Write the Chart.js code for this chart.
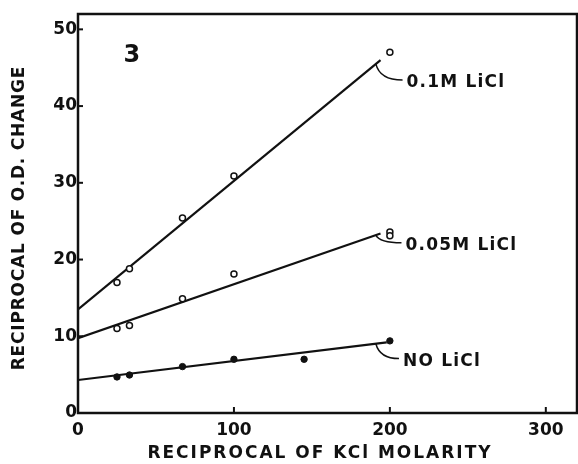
<!DOCTYPE html>
<html>
<head>
<meta charset="utf-8">
<script src="https://cdn.jsdelivr.net/npm/chart.js@4/dist/chart.umd.min.js"></script>
<style>
    html, body { margin: 0; padding: 0; background: #fff; }
    #wrap { width: 578px; height: 464px; position: relative; }
</style>
</head>
<body>
<div id="wrap"><canvas id="grafico"></canvas></div>
<script>
(function () {
    'use strict';

    // measured points
    var x01  = [25, 33, 67, 100, 200];
    var y01  = [17.0, 18.8, 25.4, 30.9, 47.0];
    var x005 = [25, 33, 67, 100, 200, 200];
    var y005 = [11.0, 11.4, 14.9, 18.1, 23.6, 23.1];
    var x0   = [25, 33, 67, 100, 145, 200];
    var y0   = [4.7, 4.95, 6.05, 7.0, 7.0, 9.4];

    // fitted lines (start, end)
    var fitX01  = [0, 194];
    var fitY01  = [13.5, 46.0];
    var fitX005 = [0, 194];
    var fitY005 = [9.75, 23.4];
    var fitX0   = [0, 198];
    var fitY0   = [4.3, 9.2];

    // curve labels
    var rotulos  = ['0.1M LiCl', '0.05M LiCl', 'NO LiCl'];
    var rotuloX  = [210.7, 210, 208.4];
    var rotuloY  = [43, 21.8, 6.7];
    var guiaX    = 191;

    var xTicks = [0, 100, 200, 300];
    var yTicks = [0, 10, 20, 30, 40, 50];

    var INK = '#111';
    var FONTE = '"DejaVu Sans", sans-serif';

    function pares(xs, ys) {
        return xs.map(function (x, i) { return { x: x, y: ys[i] }; });
    }

    function naReta(fx, fy, x) {
        return fy[0] + (fy[1] - fy[0]) * (x - fx[0]) / (fx[1] - fx[0]);
    }

    var retas = [[fitX01, fitY01], [fitX005, fitY005], [fitX0, fitY0]];

    var moldura = {
        id: 'moldura',
        afterDraw: function (chart) {
            var ctx = chart.ctx;
            var a = chart.chartArea;
            var sx = chart.scales.x;
            var sy = chart.scales.y;

            ctx.save();
            ctx.strokeStyle = INK;
            ctx.lineWidth = 2.5;
            ctx.strokeRect(a.left, a.top, a.right - a.left, a.bottom - a.top);

            // inner tick marks
            ctx.lineWidth = 2;
            xTicks.forEach(function (v) {
                if (v === 0) return;
                var px = sx.getPixelForValue(v);
                ctx.beginPath();
                ctx.moveTo(px, a.bottom);
                ctx.lineTo(px, a.bottom - 6);
                ctx.stroke();
            });
            yTicks.forEach(function (v) {
                if (v === 0) return;
                var py = sy.getPixelForValue(v);
                ctx.beginPath();
                ctx.moveTo(a.left, py);
                ctx.lineTo(a.left + 5, py);
                ctx.stroke();
            });

            // leaders + labels
            ctx.font = 'bold 17px ' + FONTE;
            ctx.letterSpacing = '1.2px';
            ctx.fillStyle = INK;
            ctx.textBaseline = 'middle';
            ctx.textAlign = 'left';
            ctx.lineWidth = 1.5;
            rotulos.forEach(function (txt, i) {
                var r = retas[i];
                var sxp = sx.getPixelForValue(guiaX);
                var syp = sy.getPixelForValue(naReta(r[0], r[1], guiaX));
                var ex = sx.getPixelForValue(rotuloX[i]) - 4;
                var ey = sy.getPixelForValue(rotuloY[i]) - 3;
                ctx.beginPath();
                ctx.moveTo(sxp, syp);
                ctx.quadraticCurveTo(sxp + 4, ey, ex, ey);
                ctx.stroke();
                ctx.fillText(txt, sx.getPixelForValue(rotuloX[i]), sy.getPixelForValue(rotuloY[i]));
            });

            // panel number
            ctx.letterSpacing = '0px';
            ctx.font = 'bold 24px ' + FONTE;
            ctx.textAlign = 'center';
            ctx.fillText('3', sx.getPixelForValue(34.5), sy.getPixelForValue(46.5));

            // axis titles
            ctx.font = 'bold 17px ' + FONTE;
            ctx.letterSpacing = '2px';
            ctx.fillText('RECIPROCAL OF KCl MOLARITY', 320, 454);

            ctx.translate(20, 218);
            ctx.rotate(-Math.PI / 2);
            ctx.letterSpacing = '0.8px';
            ctx.fillText('RECIPROCAL OF O.D. CHANGE', 0, 0);
            ctx.restore();
        }
    };

    function init() {
        var canvas = document.getElementById('grafico');
        if (typeof Chart === 'undefined' || !canvas) return;

        var linha = {
            type: 'line',
            showLine: true,
            borderColor: INK,
            borderWidth: 2.2,
            pointRadius: 0,
            fill: false,
            tension: 0,
            order: 2
        };

        new Chart(canvas, {
            type: 'scatter',
            data: {
                datasets: [
                    Object.assign({ label: '0.1M fit', data: pares(fitX01, fitY01) }, linha),
                    Object.assign({ label: '0.05M fit', data: pares(fitX005, fitY005) }, linha),
                    Object.assign({ label: 'NO fit', data: pares(fitX0, fitY0) }, linha),
                    {
                        label: '0.1M LiCl',
                        data: pares(x01, y01),
                        pointRadius: 3,
                        pointBorderWidth: 1.5,
                        borderColor: INK,
                        backgroundColor: '#fff',
                        order: 1
                    },
                    {
                        label: '0.05M LiCl',
                        data: pares(x005, y005),
                        pointRadius: 3,
                        pointBorderWidth: 1.5,
                        borderColor: INK,
                        backgroundColor: '#fff',
                        order: 1
                    },
                    {
                        label: 'NO LiCl',
                        data: pares(x0, y0),
                        pointRadius: 3.2,
                        pointBorderWidth: 1,
                        borderColor: INK,
                        backgroundColor: INK,
                        order: 1
                    }
                ]
            },
            options: {
                responsive: true,
                maintainAspectRatio: false,
                animation: false,
                layout: {
                    autoPadding: false,
                    padding: { left: 0, right: 1, top: 14, bottom: 0 }
                },
                plugins: {
                    legend: { display: false },
                    tooltip: { enabled: false }
                },
                scales: {
                    x: {
                        type: 'linear',
                        min: 0,
                        max: 320,
                        afterFit: function (s) {
                            s.height = 51;
                            s.paddingLeft = 0;
                            s.paddingRight = 0;
                        },
                        afterBuildTicks: function (s) {
                            s.ticks = xTicks.map(function (v) { return { value: v }; });
                        },
                        grid: { display: false, drawTicks: false },
                        border: { display: false },
                        ticks: {
                            color: INK,
                            padding: 7,
                            maxRotation: 0,
                            font: { family: FONTE, size: 17, weight: 'bold' }
                        }
                    },
                    y: {
                        type: 'linear',
                        min: 0,
                        max: 52,
                        afterFit: function (s) {
                            s.width = 78;
                            s.paddingTop = 0;
                            s.paddingBottom = 0;
                        },
                        afterBuildTicks: function (s) {
                            s.ticks = yTicks.map(function (v) { return { value: v }; });
                        },
                        grid: { display: false, drawTicks: false },
                        border: { display: false },
                        ticks: {
                            color: INK,
                            padding: 1,
                            font: { family: FONTE, size: 17, weight: 'bold' }
                        }
                    }
                }
            },
            plugins: [moldura]
        });
    }

    if (document.readyState === 'loading') {
        document.addEventListener('DOMContentLoaded', init);
    } else {
        init();
    }
})();
</script>
</body>
</html>
